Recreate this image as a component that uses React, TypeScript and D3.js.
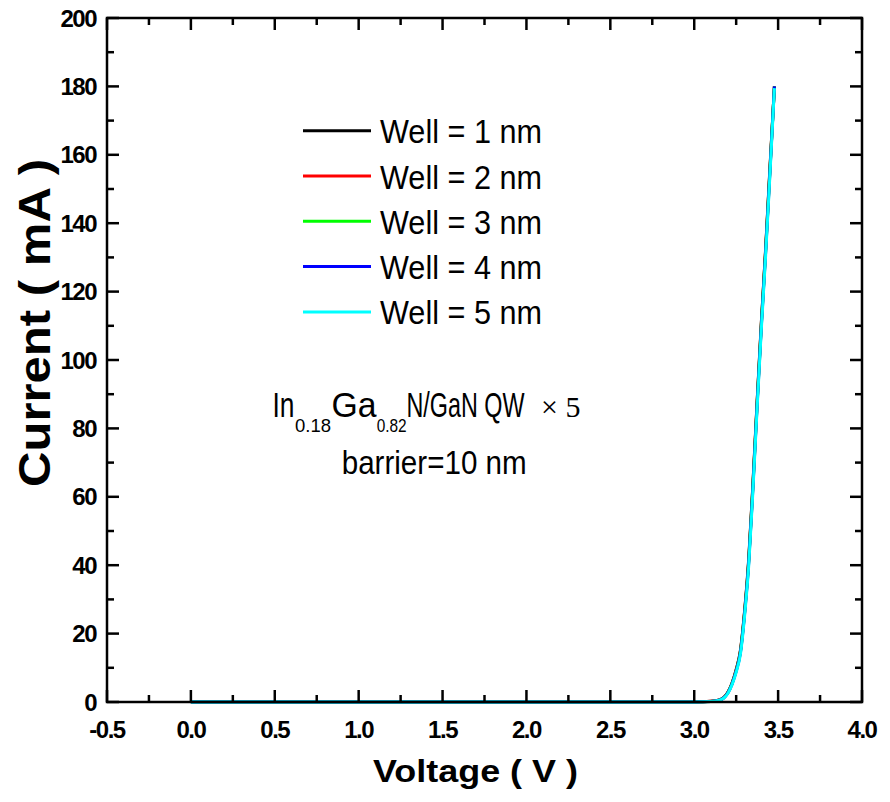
import React from "react";
import * as d3 from "d3";

const voltage = [0, 0.5, 1.0, 1.5, 2.0, 2.5, 2.8, 3.0, 3.1, 3.15, 3.175, 3.2, 3.225, 3.25, 3.275, 3.3, 3.325, 3.35, 3.375, 3.4, 3.425, 3.45, 3.478];
const well1 = [0, 0, 0, 0, 0, 0, 0, 0.03, 0.2, 0.6, 1.25, 2.8, 5.5, 9.5, 15, 26.5, 42, 64, 88, 111, 132, 155, 180];
const well2 = [0, 0, 0, 0, 0, 0, 0, 0.03, 0.19, 0.58, 1.22, 2.75, 5.4, 9.4, 14.8, 26.2, 41.6, 63.6, 87.6, 110.6, 131.6, 154.6, 180];
const well3 = [0, 0, 0, 0, 0, 0, 0, 0.03, 0.18, 0.56, 1.2, 2.7, 5.3, 9.2, 14.6, 26, 41.3, 63.3, 87.3, 110.3, 131.3, 154.3, 180];
const well4 = [0, 0, 0, 0, 0, 0, 0, 0.03, 0.17, 0.54, 1.17, 2.65, 5.2, 9.0, 14.3, 25.6, 40.8, 62.8, 86.8, 109.8, 130.8, 153.8, 180];
const well5 = [0, 0, 0, 0, 0, 0, 0, 0.02, 0.16, 0.5, 1.1, 2.5, 5.0, 8.7, 13.9, 25, 40, 62, 86, 109, 130, 153, 179.5];

const seriesNames = ["Well = 1 nm", "Well = 2 nm", "Well = 3 nm", "Well = 4 nm", "Well = 5 nm"];
const seriesValues = [well1, well2, well3, well4, well5];
const seriesColors = ["#000000", "#ff0000", "#00ff00", "#0000ff", "#00ffff"];

const xMajorTicks = [-0.5, 0, 0.5, 1.0, 1.5, 2.0, 2.5, 3.0, 3.5, 4.0];
const xMinorTicks = [-0.25, 0.25, 0.75, 1.25, 1.75, 2.25, 2.75, 3.25, 3.75];
const yMajorTicks = [0, 20, 40, 60, 80, 100, 120, 140, 160, 180, 200];
const yMinorTicks = [10, 30, 50, 70, 90, 110, 130, 150, 170, 190];

const W = 890;
const H = 802;
const L = 107, R = 862, T = 18, B = 702;
const FONT = "'Liberation Sans', Arial, Helvetica, sans-serif";

export default function App() {
  const x = d3.scaleLinear().domain([-0.5, 4.0]).range([L, R]);
  const y = d3.scaleLinear().domain([0, 200]).range([B, T]);
  const line = d3
    .line<[number, number]>()
    .x((d) => x(d[0]))
    .y((d) => y(d[1]))
    .curve(d3.curveMonotoneX);

  const major = 12;
  const minor = 7;
  const legendY0 = 130.7;
  const legendDy = 45.3;

  return (
    <svg
      width={W}
      height={H}
      style={{ position: "absolute", left: 0, top: 0, background: "#fff" }}
      fontFamily={FONT}
    >
      <rect x={0} y={0} width={W} height={H} fill="#fff" />
      {seriesValues.map((vals, i) => (
        <path
          key={i}
          d={line(voltage.map((v, k) => [v, vals[k]]) as [number, number][]) || ""}
          fill="none"
          stroke={seriesColors[i]}
          strokeWidth={3}
          strokeLinejoin="round"
        />
      ))}
      <rect x={L} y={T} width={R - L} height={B - T} fill="none" stroke="#000" strokeWidth={2.5} />
      {xMajorTicks.map((t) => (
        <g key={"xm" + t}>
          <line x1={x(t)} x2={x(t)} y1={B} y2={B - major} stroke="#000" strokeWidth={2.5} />
          <line x1={x(t)} x2={x(t)} y1={T} y2={T + major} stroke="#000" strokeWidth={2.5} />
          <text x={x(t)} y={738} textAnchor="middle" fontSize={24} fontWeight="bold" letterSpacing={-1.5}>
            {t.toFixed(1)}
          </text>
        </g>
      ))}
      {xMinorTicks.map((t) => (
        <g key={"xn" + t}>
          <line x1={x(t)} x2={x(t)} y1={B} y2={B - minor} stroke="#000" strokeWidth={2.5} />
          <line x1={x(t)} x2={x(t)} y1={T} y2={T + minor} stroke="#000" strokeWidth={2.5} />
        </g>
      ))}
      {yMajorTicks.map((t) => (
        <g key={"ym" + t}>
          <line x1={L} x2={L + major} y1={y(t)} y2={y(t)} stroke="#000" strokeWidth={2.5} />
          <line x1={R} x2={R - major} y1={y(t)} y2={y(t)} stroke="#000" strokeWidth={2.5} />
          <text x={96} y={y(t) + 8.5} textAnchor="end" fontSize={24} fontWeight="bold" letterSpacing={-1.5}>
            {String(t)}
          </text>
        </g>
      ))}
      {yMinorTicks.map((t) => (
        <g key={"yn" + t}>
          <line x1={L} x2={L + minor} y1={y(t)} y2={y(t)} stroke="#000" strokeWidth={2.5} />
          <line x1={R} x2={R - minor} y1={y(t)} y2={y(t)} stroke="#000" strokeWidth={2.5} />
        </g>
      ))}
      <text x={373} y={782} fontSize={31} fontWeight="bold" textLength={205} lengthAdjust="spacingAndGlyphs">
        Voltage ( V )
      </text>
      <text
        transform={`translate(50,487) rotate(-90)`}
        fontSize={44}
        fontWeight="bold"
        textLength={328}
        lengthAdjust="spacingAndGlyphs"
      >
        Current ( mA )
      </text>
      {seriesNames.map((name, i) => (
        <g key={"lg" + i}>
          <line
            x1={303}
            x2={371}
            y1={legendY0 + i * legendDy}
            y2={legendY0 + i * legendDy}
            stroke={seriesColors[i]}
            strokeWidth={3}
          />
          <text
            x={380}
            y={legendY0 + i * legendDy + 12.5}
            fontSize={34}
            textLength={162}
            lengthAdjust="spacingAndGlyphs"
          >
            {name}
          </text>
        </g>
      ))}
      <text x={272.5} y={416.7} fontSize={35} textLength={22} lengthAdjust="spacingAndGlyphs">In</text>
      <text x={295} y={432} fontSize={19} textLength={36} lengthAdjust="spacingAndGlyphs">0.18</text>
      <text x={331.5} y={416.7} fontSize={35} textLength={45} lengthAdjust="spacingAndGlyphs">Ga</text>
      <text x={376.7} y={432} fontSize={19} textLength={30} lengthAdjust="spacingAndGlyphs">0.82</text>
      <text transform="translate(406.5,416.7) scale(0.667,1)" fontSize={35}>N/GaN QW</text>
      <text x={541} y={416.7} fontSize={30} fontFamily="'Liberation Serif', 'Times New Roman', serif">
        × 5
      </text>
      <text x={341.7} y={474} fontSize={33} textLength={185} lengthAdjust="spacingAndGlyphs">
        barrier=10 nm
      </text>
    </svg>
  );
}
